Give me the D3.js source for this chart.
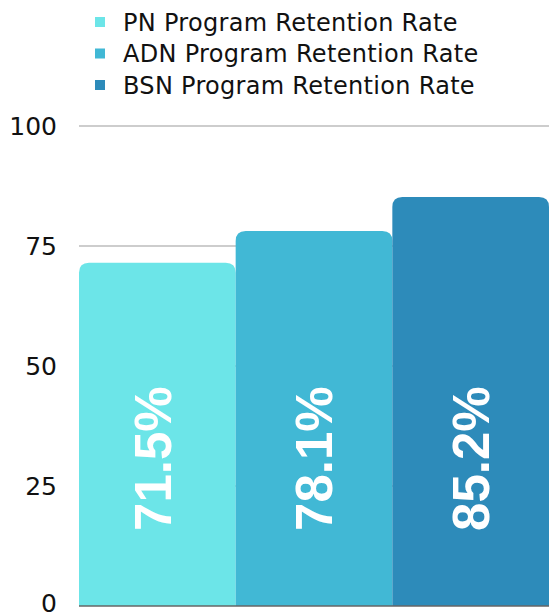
<!DOCTYPE html>
<html><head><meta charset="utf-8">
<script src="https://cdn.jsdelivr.net/npm/d3@7"></script>
<style>body{margin:0;background:#fff}svg{display:block}</style>
</head><body>
<svg id="c" width="549" height="616"></svg>
<script>
const categories = ["PN Program Retention Rate", "ADN Program Retention Rate", "BSN Program Retention Rate"];
const values = [71.5, 78.1, 85.2];
const labels = ["71.5%", "78.1%", "85.2%"];
const colors = ["#6CE5E8", "#41B8D5", "#2D8BBA"];
const ticks = [0, 25, 50, 75, 100];

(function () {
const svg = d3.select("#c");
const mLeft = 79, mRight = 549, mTop = 126, mBottom = 606;
const x = d3.scaleBand().domain(categories).range([mLeft, mRight]).padding(0);
const y = d3.scaleLinear().domain([0, 100]).range([mBottom, mTop]);

// gridlines
svg.append("g").selectAll("line").data(ticks.filter(t => t > 0)).join("line")
  .attr("x1", mLeft).attr("x2", mRight)
  .attr("y1", d => y(d)).attr("y2", d => y(d))
  .attr("stroke", "#bdbdbd").attr("stroke-width", 1.5);

// tick labels
svg.append("g").selectAll("text").data(ticks).join("text")
  .attr("x", 57).attr("y", d => d === 0 ? y(d) - 3 : y(d)).attr("dy", "0.36em")
  .attr("text-anchor", "end")
  .attr("font-family", "'DejaVu Sans', sans-serif")
  .attr("font-size", 25).attr("fill", "#111")
  .text(d => d);

// bars with rounded top corners
const r = 10;
function barPath(x0, w, yTop, yBot) {
  return `M${x0},${yBot}V${yTop + r}Q${x0},${yTop} ${x0 + r},${yTop}H${x0 + w - r}Q${x0 + w},${yTop} ${x0 + w},${yTop + r}V${yBot}Z`;
}
svg.append("g").selectAll("path").data(categories).join("path")
  .attr("d", (d, i) => barPath(x(d), x.bandwidth(), y(values[i]), y(0)))
  .attr("fill", (d, i) => colors[i]);

// value labels
svg.append("g").selectAll("text").data(categories).join("text")
  .attr("transform", (d, i) => `translate(${x(d) + x.bandwidth() / 2 - (i === 0 ? 5 : 0)},${y(30.7)}) rotate(-90)`)
  .attr("text-anchor", "middle").attr("dy", "0.36em")
  .attr("font-family", "'Liberation Sans', Arial, sans-serif")
  .attr("font-weight", "bold").attr("font-size", 51).attr("fill", "#fff")
  .text((d, i) => labels[i]);

// baseline
svg.append("line").attr("x1", mLeft).attr("x2", mRight)
  .attr("y1", y(0)).attr("y2", y(0)).attr("stroke", "#666").attr("stroke-width", 1.5);

// legend
const lg = svg.append("g").selectAll("g").data(categories).join("g")
  .attr("transform", (d, i) => `translate(95,${22 + i * 31.5})`);
lg.append("rect").attr("x", 0).attr("y", -5).attr("width", 10).attr("height", 10)
  .attr("fill", (d, i) => colors[i]);
lg.append("text").attr("x", 28).attr("dy", "0.36em")
  .attr("font-family", "'DejaVu Sans', sans-serif")
  .attr("letter-spacing", 0.3)
  .attr("font-size", 24).attr("fill", "#111").text(d => d);
})();
</script>
</body></html>
